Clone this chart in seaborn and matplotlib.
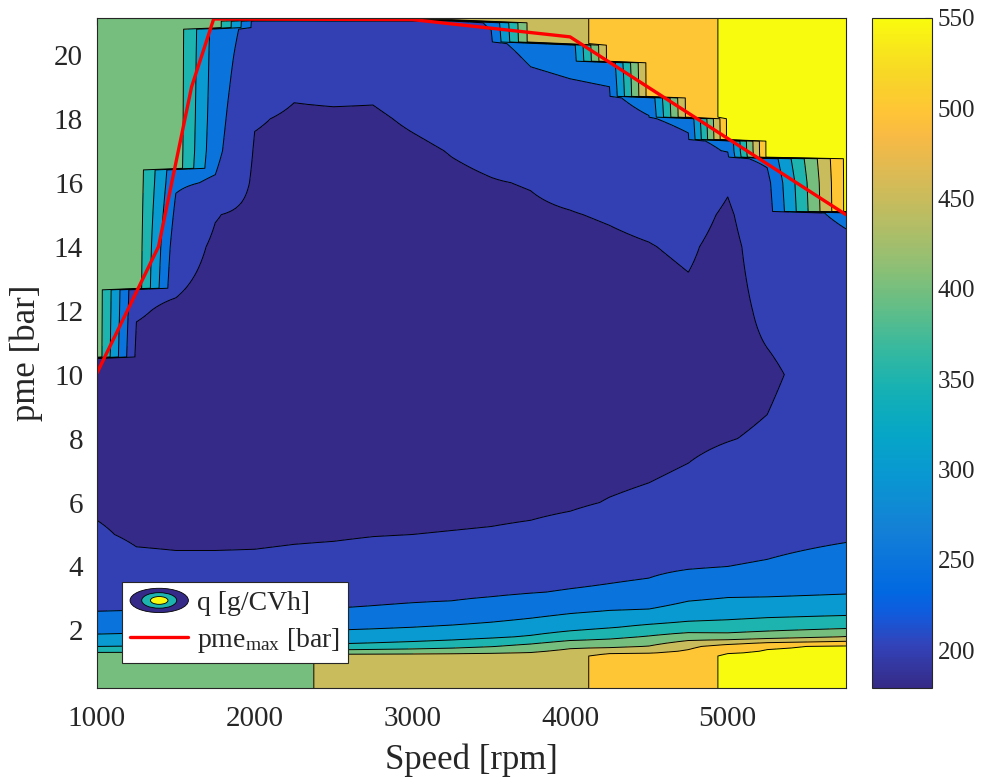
import matplotlib
matplotlib.use("Agg")
import matplotlib.pyplot as plt
import numpy as np
import seaborn as sns
from matplotlib.cm import ScalarMappable
from matplotlib.colors import LinearSegmentedColormap, Normalize
from matplotlib.legend_handler import HandlerBase
from matplotlib.lines import Line2D
from matplotlib.patches import Ellipse, Patch

# %% data
speed = [1000, 1250, 1500, 1750, 2000, 2250, 2500, 2750, 3000, 3250,
         3500, 3750, 4000, 4250, 4500, 4750, 5000, 5250, 5750]
pme = [0.2, 1.2, 1.5, 1.8, 2.1, 2.6, 3.2, 4, 5, 6, 8, 10, 12,
       14, 15, 16, 17, 18, 19, 20, 21.2]

# q [g/CVh], one line per speed, values follow pme
q_table = [
    [430, 430, 350, 306, 285, 250, 236, 222, 204, 195, 188, 188, 196, 205, 210, 215, 222, 230, 240, 250, 260],
    [430, 430, 352, 308, 287, 251, 232, 208, 195, 190, 186, 186, 203, 215, 222, 230, 238, 245, 252, 260, 270],
    [430, 430, 355, 310, 288, 252, 230, 206, 194, 188, 185, 186, 195, 220, 238, 256, 270, 280, 290, 300, 310],
    [430, 430, 356, 312, 289, 253, 230, 206, 194, 187, 183, 183, 186, 194, 202, 246, 262, 268, 272, 275, 280],
    [430, 430, 358, 313, 290, 254, 231, 207, 194, 187, 182, 181, 182, 186, 189, 193, 197, 202, 212, 222, 235],
    [430, 430, 359, 314, 291, 255, 232, 209, 196, 188, 182, 180, 181, 184, 187, 190, 194, 197, 203, 214, 228],
    [470, 470, 362, 316, 293, 253, 234, 211, 197, 189, 182, 180, 180, 183, 186, 189, 193, 197, 205, 216, 230],
    [470, 470, 368, 320, 296, 255, 238, 214, 199, 190, 182, 179, 179, 182, 185, 188, 192, 197, 204, 214, 228],
    [470, 470, 375, 326, 300, 258, 240, 216, 200, 192, 183, 180, 180, 184, 188, 192, 196, 203, 210, 220, 232],
    [470, 470, 385, 333, 306, 262, 240, 218, 201, 193, 184, 181, 181, 186, 191, 196, 201, 208, 215, 224, 235],
    [470, 470, 398, 343, 313, 272, 243, 222, 202, 194, 185, 182, 183, 190, 195, 199, 205, 212, 222, 236, 258],
    [470, 470, 415, 355, 322, 283, 248, 226, 204, 195, 186, 183, 185, 193, 197, 201, 212, 225, 240, 256, 275],
    [482, 482, 440, 375, 335, 294, 253, 230, 208, 197, 187, 184, 186, 193, 199, 206, 218, 232, 246, 262, 280],
    [520, 520, 440, 388, 347, 302, 257, 236, 214, 201, 189, 185, 187, 196, 202, 212, 224, 236, 250, 266, 285],
    [520, 520, 452, 404, 360, 305, 262, 240, 218, 204, 191, 186, 189, 199, 206, 215, 227, 248, 268, 285, 300],
    [520, 520, 490, 425, 368, 320, 282, 246, 226, 208, 195, 188, 194, 204, 212, 224, 240, 258, 275, 290, 305],
    [560, 560, 520, 420, 372, 325, 290, 250, 232, 218, 199, 190, 188, 190, 195, 204, 252, 265, 280, 295, 310],
    [560, 560, 545, 430, 380, 330, 290, 254, 236, 222, 203, 195, 207, 218, 226, 236, 266, 280, 290, 300, 310],
    [560, 560, 555, 452, 392, 335, 296, 268, 244, 234, 224, 218, 222, 240, 258, 270, 285, 295, 305, 315, 325],
]

# value used above the full-load limit of each speed column
q_fill = [430, 430, 430, 430, 430, 430, 470, 470, 470, 470,
          470, 470, 482, 520, 520, 520, 560, 560, 560]
pme_limit = [10.53, 12.66, 16.4, 20.84, 21.05, 21.05, 21.05, 21.05, 21.05, 21.05,
             21.03, 20.37, 20.31, 19.78, 18.69, 18.0, 17.31, 16.78, 15.06]

# full-load curve
pme_max_speed = [1000, 1390, 1600, 1740, 3000, 4000, 5750]
pme_max = [10.05, 14.0, 19.0, 21.12, 21.1, 20.56, 15.0]

q_levels = [200, 250, 300, 350, 400, 450, 500, 550]
q_min, q_max = 179, 550

# %% parula
parula_pts = [
    (0.2081, 0.1663, 0.5292), (0.1959, 0.2645, 0.7279), (0.0591, 0.3598, 0.8683),
    (0.0060, 0.4086, 0.8828), (0.0779, 0.5040, 0.8384), (0.0343, 0.5966, 0.8199),
    (0.0228, 0.6535, 0.7768), (0.0843, 0.6928, 0.7062), (0.2178, 0.7250, 0.6193),
    (0.3953, 0.7459, 0.5244), (0.5709, 0.7485, 0.4494), (0.7184, 0.7411, 0.3905),
    (0.8507, 0.7299, 0.3360), (0.9739, 0.7314, 0.2666), (0.9990, 0.7653, 0.2164),
    (0.9697, 0.8481, 0.1475), (0.9763, 0.9831, 0.0538),
]
parula_pos = np.array([0, 4, 7, 9, 15, 20, 24, 28, 32, 36, 40, 44, 48, 52, 54, 58, 63]) / 63
parula = LinearSegmentedColormap.from_list("parula", list(zip(parula_pos, parula_pts)))
norm = Normalize(q_min, q_max)
band_colors = [parula(norm(v)) for v in [q_min] + q_levels]

# %% grid
q_arr = np.array(q_table).T
pme_fine = np.linspace(0.2, 21.2, 421)
q_grid = np.empty((len(pme_fine), len(speed)))
for j in range(len(speed)):
    col = np.interp(pme_fine, pme, q_arr[:, j])
    col[pme_fine > pme_limit[j]] = q_fill[j]
    q_grid[:, j] = col

# %% plot
sns.set_style("white")
plt.rcParams["font.family"] = ["Liberation Serif", "DejaVu Serif"]
plt.rcParams["mathtext.fontset"] = "custom"
plt.rcParams["mathtext.rm"] = "Liberation Serif"
plt.rcParams["mathtext.it"] = "Liberation Serif:italic"
dark = "#262626"

fig = plt.figure(figsize=(9.82, 7.82), dpi=100)
ax = fig.add_axes([97 / 982, 1 - 688 / 782, 749 / 982, 670 / 782])
cax = fig.add_axes([872 / 982, 1 - 688 / 782, 60 / 982, 670 / 782])

ax.contourf(speed, pme_fine, q_grid, levels=[0] + q_levels + [2000], colors=band_colors)
ax.contour(speed, pme_fine, q_grid, levels=q_levels, colors="k", linewidths=0.7)
sns.lineplot(x=pme_max_speed, y=pme_max, color="red", lw=2.4, ax=ax, sort=False, legend=False)

ax.set_xlim(1000, 5750)
ax.set_ylim(0.2, 21.15)
ax.set_xticks([1000, 2000, 3000, 4000, 5000])
ax.set_yticks(range(2, 21, 2))
ax.tick_params(direction="in", top=True, right=True, length=5, width=0.8,
               labelsize=21, colors=dark)
ax.tick_params(axis="x", pad=13)
ax.tick_params(axis="y", pad=10)
ax.set_xlabel("Speed [rpm]", fontsize=25, color=dark, labelpad=8)
ax.set_ylabel("pme [bar]", fontsize=25, color=dark, labelpad=8)
for s in ax.spines.values():
    s.set_color(dark)
    s.set_linewidth(0.8)


class ContourIcon(HandlerBase):
    def create_artists(self, legend, orig_handle, xdescent, ydescent, width, height, fontsize, trans):
        cx = 0.5 * width - xdescent
        cy = 0.5 * height - ydescent
        rings = [(1.0, 1.25, band_colors[0]), (0.6, 0.8, band_colors[4]), (0.3, 0.4, band_colors[-1])]
        return [Ellipse((cx, cy), fw * width, fh * height, facecolor=c, edgecolor="k",
                        lw=0.6, transform=trans) for fw, fh, c in rings]


handles = [Patch(), Line2D([], [], color="red", lw=2.4)]
labels = ["q [g/CVh]", r"pme$_{\mathrm{max}}$ [bar]"]
leg = ax.legend(handles, labels, handler_map={Patch: ContourIcon()},
                loc="lower left", bbox_to_anchor=(0.033, 0.037), borderaxespad=0,
                fontsize=20, handlelength=2.1, handletextpad=0.3, borderpad=0.3,
                labelspacing=0.35, fancybox=False, framealpha=1, edgecolor=dark)
leg.get_frame().set_linewidth(0.8)

cb = fig.colorbar(ScalarMappable(norm=norm, cmap=parula), cax=cax)
cb.set_ticks(q_levels)
cb.ax.tick_params(direction="in", length=5, width=0.8, labelsize=18, colors=dark, pad=4)
cb.outline.set_edgecolor(dark)
cb.outline.set_linewidth(0.8)

fig.savefig("out.png", dpi=100)
